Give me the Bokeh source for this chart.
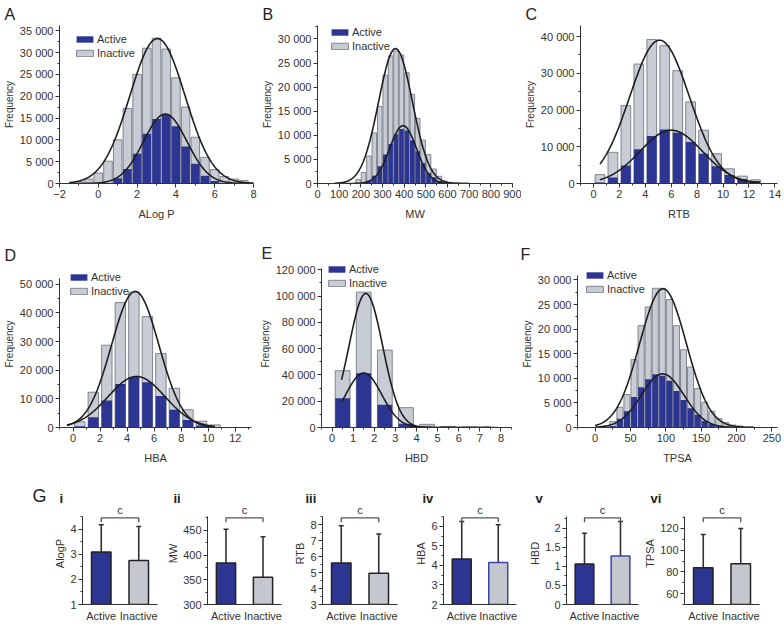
import numpy as np
from bokeh.plotting import figure
from bokeh.models import (ColumnDataSource, Range1d, FactorRange, FixedTicker,
                          Label, Legend, LegendItem, CustomJSTickFormatter)
from bokeh.layouts import column, row
from bokeh.embed import file_html
from bokeh.resources import INLINE

FONT = "Liberation Sans"
BLUE = "#2C3592"
GRAY = "#C8CCD4"
GRAY_EDGE = "#80858E"
INK = "#333333"
CURVE = "#1E1E1E"

# ---------------- data ----------------
# A: ALog P
alogp_bins = [-1.0, -0.5, 0.0, 0.5, 1.0, 1.5, 2.0, 2.5, 3.0, 3.5, 4.0, 4.5, 5.0, 5.5, 6.0, 6.5, 7.0, 7.5]
alogp_inactive = [400, 1000, 2400, 5100, 10000, 17200, 25000, 31000, 33300, 30800, 24200, 17500, 10600, 6000, 3200, 1600, 1000, 700]
alogp_active = [0, 0, 0, 0, 1200, 3300, 6800, 11400, 14800, 15800, 13100, 8500, 4500, 1800, 600, 0, 0, 0]
alogp_fit_inactive = [3.05, 1.42, 33200]   # mean, sd, peak
alogp_fit_active = [3.45, 1.12, 15900]

# B: MW
mw_bins = [187.5, 212.5, 237.5, 262.5, 287.5, 312.5, 337.5, 362.5, 387.5, 412.5, 437.5, 462.5, 487.5, 512.5, 537.5, 562.5, 587.5]
mw_inactive = [800, 2300, 5700, 10500, 16000, 22500, 26500, 27500, 26700, 23000, 18500, 13500, 9000, 6000, 3000, 1500, 500]
mw_active = [0, 0, 600, 1600, 3600, 6000, 8200, 10200, 11300, 11000, 9000, 6700, 4200, 2200, 1300, 500, 0]
mw_fit_inactive = [360, 78, 28000]
mw_fit_active = [395, 62, 12000]

# C: RTB
rtb_bins = [0.5, 1.5, 2.5, 3.5, 4.5, 5.5, 6.5, 7.5, 8.5, 9.5, 10.5, 11.5, 12.5]
rtb_inactive = [2400, 8500, 21200, 32500, 39200, 37500, 30700, 22200, 14500, 8100, 4000, 2000, 1000]
rtb_active = [300, 1600, 4900, 9300, 12900, 14700, 13800, 11300, 8100, 4700, 2300, 1200, 700]
rtb_fit_inactive = [5.1, 2.3, 39000]
rtb_fit_active = [6.0, 2.4, 14500]

# D: HBA
hba_bins = [0.5, 1.5, 2.5, 3.5, 4.5, 5.5, 6.5, 7.5, 8.5, 9.5, 10.5]
hba_inactive = [2000, 12300, 28700, 43600, 47200, 38700, 25800, 13700, 6200, 2200, 900]
hba_active = [400, 3600, 9400, 15200, 17600, 15800, 11000, 6200, 2600, 700, 0]
hba_fit_inactive = [4.6, 1.75, 47500]
hba_fit_active = [4.7, 2.1, 17800]

# E: HBD
hbd_bins = [0.5, 1.5, 2.5, 3.5, 4.5, 5.5, 6.5, 7.5]
hbd_inactive = [43200, 103000, 58900, 15100, 2400, 800, 400, 300]
hbd_active = [22300, 41200, 17300, 2800, 500, 200, 100, 100]
hbd_fit_inactive = [1.6, 0.8, 102000]
hbd_fit_active = [1.5, 0.85, 41500]

# F: TPSA
tpsa_bins = [15, 25, 35, 45, 55, 65, 75, 85, 95, 105, 115, 125, 135, 145, 155, 165, 175, 185, 195, 205]
tpsa_inactive = [300, 1200, 4100, 6700, 13800, 20700, 24500, 28300, 28300, 26000, 20700, 15800, 12300, 7900, 5100, 3300, 1800, 1000, 500, 300]
tpsa_active = [0, 300, 1800, 3300, 6200, 8200, 9800, 10800, 10500, 9500, 7400, 5600, 3900, 2600, 1300, 700, 300, 0, 0, 0]
tpsa_fit_inactive = [96, 33, 28200]
tpsa_fit_active = [95.5, 30, 10900]

# G: means with upper SD
g_names = ["AlogP", "MW", "RTB", "HBA", "HBD", "TPSA"]
g_numerals = ["i", "ii", "iii", "iv", "v", "vi"]
g_groups = ["Active", "Inactive"]
g_active_mean = [3.09, 384, 5.60, 4.33, 1.06, 83.8]
g_active_upper = [4.17, 452, 7.92, 6.24, 1.87, 114.5]
g_inactive_mean = [2.75, 355, 4.95, 4.15, 1.27, 87.5]
g_inactive_upper = [4.10, 437, 7.40, 6.08, 2.18, 120.0]
g_sig = ["c", "c", "c", "c", "c", "c"]


def thousands():
    return CustomJSTickFormatter(code=r"""
const s = Math.round(tick).toString();
return s.replace(/\B(?=(\d{3})+(?!\d))/g, ' ');
""")


def style_axes(p, tick_font="11px", label_font="11px"):
    for ax in p.axis:
        ax.axis_line_color = INK
        ax.axis_line_width = 1
        ax.major_tick_line_color = INK
        ax.minor_tick_line_color = INK
        ax.major_tick_out = 4
        ax.major_tick_in = 0
        ax.minor_tick_out = 2
        ax.minor_tick_in = 0
        ax.major_label_text_font = FONT
        ax.major_label_text_font_size = tick_font
        ax.major_label_text_color = INK
        ax.axis_label_text_font = FONT
        ax.axis_label_text_font_size = label_font
        ax.axis_label_text_font_style = "normal"
        ax.axis_label_text_color = INK


def base_fig(w, h, xr, yr, bl, br, bt, bb):
    p = figure(width=w, height=h, x_range=xr, y_range=yr,
               output_backend="svg", toolbar_location=None,
               min_border_left=bl, min_border_right=br,
               min_border_top=bt, min_border_bottom=bb)
    p.outline_line_color = None
    p.grid.visible = False
    p.background_fill_color = "white"
    p.border_fill_color = "white"
    return p


def set_title(p, text, offset, standoff, size="16px", bold=False):
    p.title.text = text
    p.title.align = "left"
    p.title.offset = offset
    p.title.standoff = standoff
    p.title.text_font = FONT
    p.title.text_font_size = size
    p.title.text_font_style = "bold" if bold else "normal"
    p.title.text_color = "#222222"


def hist_panel(let, let_off, let_stand, xlabel, bins, inactive, active, fit_in, fit_act,
               span, bw, xr, axis_top, ext_px, xmaj, xmin, ymaj, ymin,
               w, h, bl, br, bt, bb, leg=None):
    fh = h - bt - bb
    yend = axis_top * fh / (fh - ext_px)
    p = base_fig(w, h, Range1d(*xr), Range1d(0, yend), bl, br, bt, bb)
    src = ColumnDataSource(dict(x=bins, inactive=inactive, active=active))
    r_in = p.vbar(x="x", top="inactive", width=bw, source=src,
                  fill_color=GRAY, line_color=GRAY_EDGE, line_width=1)
    r_act = p.vbar(x="x", top="active", width=bw, source=src,
                   fill_color=BLUE, line_color=None)
    xs = np.linspace(span[0], span[1], 300)
    for fit in (fit_in, fit_act):
        ys = fit[2] * np.exp(-0.5 * ((xs - fit[0]) / fit[1]) ** 2)
        p.line(xs, ys, line_color=CURVE, line_width=1.6)
    p.xaxis.ticker = FixedTicker(ticks=xmaj, minor_ticks=xmin)
    p.yaxis.ticker = FixedTicker(ticks=ymaj, minor_ticks=ymin)
    p.yaxis.formatter = thousands()
    p.yaxis.bounds = (0, axis_top)
    p.xaxis.axis_label = xlabel
    p.yaxis.axis_label = "Frequency"
    style_axes(p)
    p.yaxis.axis_label_text_font_size = "10px"
    p.xaxis.major_label_standoff = 2
    p.xaxis.axis_label_standoff = 7
    p.yaxis.major_label_standoff = 2
    p.yaxis.axis_label_standoff = 2
    if leg is not None:
        lx, ltop = leg
        H = 27
        legend = Legend(items=[LegendItem(label="Active", renderers=[r_act]),
                               LegendItem(label="Inactive", renderers=[r_in])],
                        location=(lx, fh - ltop - H),
                        glyph_width=21, glyph_height=8, label_height=11,
                        label_text_line_height=1.0,
                        label_standoff=2, spacing=2, padding=0, margin=0,
                        background_fill_alpha=0, border_line_alpha=0,
                        label_text_font=FONT, label_text_font_size="11px",
                        label_text_color=INK)
        p.add_layout(legend, "center")
    set_title(p, let, let_off, let_stand)
    return p


def rng(a, b, s):
    return list(np.round(np.arange(a, b + s / 2, s), 6))


# frames in one row share their top and bottom borders
R1H, R1T, R1B = 228, 25, 45
pA = hist_panel("A", -55, 6, "ALog P", alogp_bins, alogp_inactive, alogp_active,
                alogp_fit_inactive, alogp_fit_active, (-1.5, 8.0), 0.44,
                (-2, 8), 36200, 0, rng(-2, 8, 2), rng(-2, 8, 1),
                rng(0, 35000, 5000), rng(0, 35000, 2500),
                258, R1H, 57, 5, R1T, R1B, leg=(15, 7))
pB = hist_panel("B", -55, 6, "MW", mw_bins, mw_inactive, mw_active,
                mw_fit_inactive, mw_fit_active, (80, 700), 21,
                (0, 900), 32800, 0, rng(0, 900, 100), rng(0, 900, 50),
                rng(0, 30000, 5000), rng(0, 32500, 2500),
                263, R1H, 57, 9, R1T, R1B, leg=(12, 0))
pC = hist_panel("C", -55, 6, "RTB", rtb_bins, rtb_inactive, rtb_active,
                rtb_fit_inactive, rtb_fit_active, (0.5, 12.8), 0.75,
                (-1, 14.2), 43000, 0, rng(0, 14, 2), rng(-1, 14, 1),
                rng(0, 40000, 10000), rng(0, 40000, 5000),
                263, R1H, 57, 7, R1T, R1B, leg=None)

R2H, R2T, R2B = 242, 32, 43
pD = hist_panel("D", -55, -7, "HBA", hba_bins, hba_inactive, hba_active,
                hba_fit_inactive, hba_fit_active, (-0.45, 10.5), 0.77,
                (-1, 13.2), 52000, 18, rng(0, 12, 2), rng(-1, 13, 1),
                rng(0, 50000, 10000), rng(0, 50000, 5000),
                256, R2H, 57, 5, R2T, R2B, leg=(9, 10))
pE = hist_panel("E", -60, -2, "HBD", hbd_bins, hbd_inactive, hbd_active,
                hbd_fit_inactive, hbd_fit_active, (0.45, 7.5), 0.7,
                (-0.5, 8.5), 121000, 8, rng(0, 8, 1), rng(-0.5, 8.5, 0.5),
                rng(0, 120000, 20000), rng(0, 120000, 10000),
                262, R2H, 63, 7, R2T, R2B, leg=(5, 2))
pF = hist_panel("F", -57, -5, "TPSA", tpsa_bins, tpsa_inactive, tpsa_active,
                tpsa_fit_inactive, tpsa_fit_active, (0, 225), 8.5,
                (-25, 258), 30900, 15, rng(0, 250, 50), rng(-25, 250, 25),
                rng(0, 30000, 5000), rng(0, 30000, 2500),
                266, R2H, 57, 7, R2T, R2B, leg=(7, 8))

# ---------------- G row ----------------
R3H = 155
G_BT, G_BB = 32, 21
G_FH = R3H - G_BT - G_BB
G_EXT = 14  # pixels of frame above the axis top (room for bracket label)
g_ystart = [1, 300, 3, 2, 0, 50]
g_axis_top = [4.5, 478, 8.5, 6.5, 2.31, 131]
g_yticks = [rng(1, 4, 1), rng(300, 450, 50), rng(3, 8, 1), rng(2, 6, 1), rng(0, 2, 0.5), rng(60, 120, 20)]
g_yminor = [rng(1, 4.5, 0.5), rng(300, 475, 25), rng(3, 8.5, 0.5), rng(2, 6.5, 0.5), rng(0, 2.25, 0.25), rng(50, 130, 10)]
g_widths = [113, 127, 120, 114, 116, 144]
g_bl = [32, 44, 32, 33, 42, 44]
g_br = [6, 9, 13, 8, 2, 25]
g_numoff = [-23, -34, -17, -21, -31, -34]
g_inact_edge = ["#222222", "#222222", "#222222", "#3A47A8", "#3A47A8", "#222222"]

pG = figure(width=50, height=R3H, x_range=(0, 1), y_range=(0, 1),
            output_backend="svg", toolbar_location=None,
            min_border_left=0, min_border_right=0, min_border_top=G_BT,
            min_border_bottom=G_BB)
pG.axis.visible = False
pG.grid.visible = False
pG.outline_line_color = None
set_title(pG, "G", 32, -6, size="18px")

g_figs = [pG]
for i in range(6):
    y0 = g_ystart[i]
    ytop = g_axis_top[i]
    span = ytop - y0
    yend = y0 + span * G_FH / (G_FH - G_EXT)
    p = base_fig(g_widths[i], R3H, FactorRange(*g_groups), Range1d(y0, yend),
                 g_bl[i], g_br[i], G_BT, G_BB)
    src = ColumnDataSource(dict(cat=g_groups,
                                mean=[g_active_mean[i], g_inactive_mean[i]],
                                upper=[g_active_upper[i], g_inactive_upper[i]],
                                fill=[BLUE, "#C4C7CD"],
                                edge=["#222222", g_inact_edge[i]]))
    p.segment(x0="cat", y0="mean", x1="cat", y1="upper", source=src,
              line_color=INK, line_width=1.6)
    p.scatter(x="cat", y="upper", marker="dash", size=5, source=src,
              line_color=INK, line_width=1.5)
    p.vbar(x="cat", top="mean", bottom=y0, width=0.52, source=src,
           fill_color="fill", line_color="edge", line_width=1.5)
    top = ytop - 0.015 * span
    leg_y = top - 0.05 * span
    p.line(x=["Active", "Active", "Inactive", "Inactive"],
           y=[leg_y, top, top, leg_y], line_color="#555555", line_width=1.3)
    p.add_layout(Label(x=1.0, y=top, text=g_sig[i], text_font=FONT,
                       text_font_size="11px", text_color=INK,
                       text_align="center", text_baseline="bottom", y_offset=2))
    p.yaxis.ticker = FixedTicker(ticks=g_yticks[i], minor_ticks=g_yminor[i])
    p.yaxis.bounds = (y0, ytop)
    p.yaxis.axis_label = g_names[i]
    style_axes(p)
    p.yaxis.major_label_standoff = 2
    p.yaxis.axis_label_standoff = 1
    p.xaxis.major_tick_line_color = None
    p.xaxis.major_tick_out = 0
    p.xaxis.minor_tick_line_color = None
    p.xaxis.major_label_standoff = 5
    set_title(p, g_numerals[i], g_numoff[i], -6, size="13px", bold=True)
    g_figs.append(p)

layout = column(row(pA, pB, pC), row(pD, pE, pF), row(*g_figs))
open("out.html", "w").write(file_html(layout, INLINE))
